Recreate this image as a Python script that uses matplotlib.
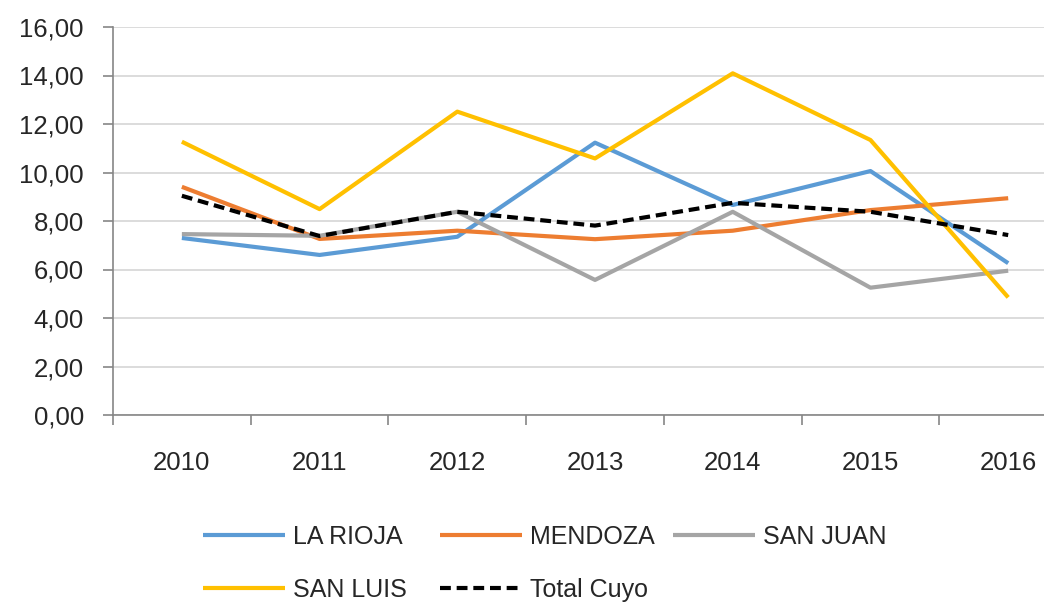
import matplotlib
matplotlib.use("Agg")
import matplotlib.pyplot as plt
from matplotlib.ticker import FixedLocator, FuncFormatter

plt.rcParams['font.family'] = ['Liberation Sans', 'DejaVu Sans']

years = ["2010", "2011", "2012", "2013", "2014", "2015", "2016"]
la_rioja = [7.30, 6.60, 7.35, 11.23, 8.66, 10.06, 6.26]
mendoza = [9.41, 7.26, 7.60, 7.25, 7.60, 8.45, 8.94]
san_juan = [7.46, 7.39, 8.38, 5.57, 8.38, 5.25, 5.95]
san_luis = [11.27, 8.49, 12.51, 10.58, 14.09, 11.34, 4.85]
total_cuyo = [9.04, 7.38, 8.38, 7.81, 8.75, 8.38, 7.42]

series = [
    ("LA RIOJA", la_rioja, "#5B9BD5", "-"),
    ("MENDOZA", mendoza, "#ED7D31", "-"),
    ("SAN JUAN", san_juan, "#A5A5A5", "-"),
    ("SAN LUIS", san_luis, "#FFC000", "-"),
    ("Total Cuyo", total_cuyo, "#000000", "--"),
]

fig = plt.figure(figsize=(10.44, 6.03), dpi=100)
ax = fig.add_axes([113/1044, 1-415/603, 1-113/1044, (415-27)/603])

x = list(range(len(years)))
lines = {}
for name, vals, col, ls in series:
    ln, = ax.plot(x, vals, color=col, lw=3.0, ls=ls, label=name,
                  solid_capstyle='butt', dash_capstyle='butt', clip_on=False)
    if ls == "--":
        ln.set_dashes((2.6, 1.4))
    lines[name] = ln

ax.set_ylim(0, 16)
ax.set_xlim(-0.5, 6.26)
ax.set_yticks([0, 2, 4, 6, 8, 10, 12, 14, 16])
ax.yaxis.set_major_formatter(FuncFormatter(lambda v, p: f"{v:.2f}".replace(".", ",")))
ax.grid(axis='y', color='#D9D9D9', lw=1.3)
ax.set_axisbelow(True)

ax.set_xticks(x)
ax.set_xticklabels(years)
ax.xaxis.set_minor_locator(FixedLocator([-0.5, 0.5, 1.5, 2.5, 3.5, 4.5, 5.5]))
ax.tick_params(axis='x', which='major', length=0, pad=26, labelsize=18.5, colors='#262626')
ax.tick_params(axis='x', which='minor', length=7.5, width=1.2, color='#868686', direction='out')
ax.tick_params(axis='y', length=7, width=1.2, color='#868686', pad=14, labelsize=18.5, labelcolor='#262626')

for s in ['top', 'right']:
    ax.spines[s].set_visible(False)
for s in ['left', 'bottom']:
    ax.spines[s].set_color('#868686')
    ax.spines[s].set_linewidth(1.2)

positions = {
    "LA RIOJA": (203/1044, 1-537/603),
    "MENDOZA": (440/1044, 1-537/603),
    "SAN JUAN": (673/1044, 1-537/603),
    "SAN LUIS": (203/1044, 1-590/603),
    "Total Cuyo": (440/1044, 1-590/603),
}
for name, pos in positions.items():
    leg = fig.legend([lines[name]], [name], loc='center left', bbox_to_anchor=pos,
                     frameon=False, fontsize=18, handlelength=3.28, handletextpad=0.32,
                     borderpad=0, borderaxespad=0)
    for t in leg.get_texts():
        t.set_color('#262626')

fig.savefig("out.png", dpi=100)
